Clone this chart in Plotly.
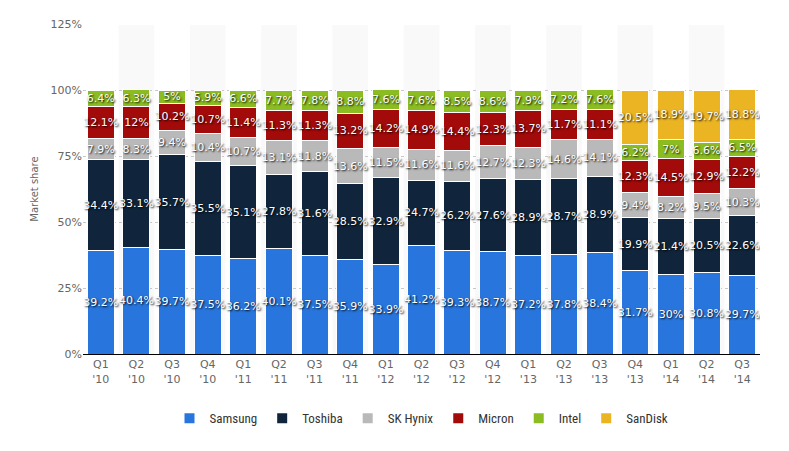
import plotly.graph_objects as go

quarters = ["Q1<br>'10", "Q2<br>'10", "Q3<br>'10", "Q4<br>'10", "Q1<br>'11", "Q2<br>'11", "Q3<br>'11", "Q4<br>'11",
            "Q1<br>'12", "Q2<br>'12", "Q3<br>'12", "Q4<br>'12", "Q1<br>'13", "Q2<br>'13", "Q3<br>'13", "Q4<br>'13",
            "Q1<br>'14", "Q2<br>'14", "Q3<br>'14"]

samsung = [39.2, 40.4, 39.7, 37.5, 36.2, 40.1, 37.5, 35.9, 33.9, 41.2, 39.3, 38.7, 37.2, 37.8, 38.4, 31.7, 30, 30.8, 29.7]
toshiba = [34.4, 33.1, 35.7, 35.5, 35.1, 27.8, 31.6, 28.5, 32.9, 24.7, 26.2, 27.6, 28.9, 28.7, 28.9, 19.9, 21.4, 20.5, 22.6]
sk_hynix = [7.9, 8.3, 9.4, 10.4, 10.7, 13.1, 11.8, 13.6, 11.5, 11.6, 11.6, 12.7, 12.3, 14.6, 14.1, 9.4, 8.2, 9.5, 10.3]
micron = [12.1, 12, 10.2, 10.7, 11.4, 11.3, 11.3, 13.2, 14.2, 14.9, 14.4, 12.3, 13.7, 11.7, 11.1, 12.3, 14.5, 12.9, 12.2]
intel = [6.4, 6.3, 5, 5.9, 6.6, 7.7, 7.8, 8.8, 7.6, 7.6, 8.5, 8.6, 7.9, 7.2, 7.6, 6.2, 7, 6.6, 6.5]
sandisk = [None] * 15 + [20.5, 18.9, 19.7, 18.8]

series = [
    ("Samsung", samsung, "#2876dd"),
    ("Toshiba", toshiba, "#10253b"),
    ("SK Hynix", sk_hynix, "#b9b9b9"),
    ("Micron", micron, "#a30a0a"),
    ("Intel", intel, "#8bbc21"),
    ("SanDisk", sandisk, "#ebb422"),
]

font_family = "DejaVu Sans, Verdana, sans-serif"
narrow = "Liberation Sans Narrow, Roboto Condensed, Liberation Sans, sans-serif"

fig = go.Figure()
for name, vals, color in series:
    fig.add_trace(go.Bar(
        name=name, x=quarters, y=vals,
        marker=dict(color=color, line=dict(color="white", width=1)),
        texttemplate="%{y}%", textposition="inside", insidetextanchor="middle",
        textangle=0, constraintext="none",
        textfont=dict(color="white", size=11, family=font_family, shadow="1px 1px 2px #000"),
    ))

# alternating column background bands
for i in range(1, len(quarters), 2):
    fig.add_shape(type="rect", xref="x", yref="y", x0=i - 0.5, x1=i + 0.5, y0=0, y1=124.5,
                  fillcolor="#f9f9f9", line=dict(width=0), layer="below")

fig.update_layout(
    barmode="stack",
    width=781, height=443,
    margin=dict(l=75, r=29, t=16, b=97, autoexpand=False),
    plot_bgcolor="white", paper_bgcolor="white",
    bargap=0.24,
    font=dict(family=font_family, color="#666666", size=11),
    uniformtext=dict(minsize=10, mode="show"),
    legend=dict(orientation="h", x=0.5, xanchor="center", y=-0.195, yanchor="middle",
                font=dict(size=13, color="#333333", family=narrow), traceorder="normal",
                itemsizing="constant", itemwidth=30),
    xaxis=dict(showgrid=False, showline=True, linecolor="#000000", linewidth=1, automargin=False,
               tickfont=dict(size=11, color="#666666"), ticks=""),
    yaxis=dict(range=[0, 125], tickvals=[0, 25, 50, 75, 100, 125], automargin=False,
               ticktext=["0%", "25%", "50%", "75%", "100%", "125%"],
               showgrid=True, gridcolor="#c8c8c8", griddash="dot", gridwidth=1,
               zeroline=False, tickfont=dict(size=11, color="#666666"),
               title=dict(text="Market share", font=dict(size=10, color="#666666"), standoff=10)),
)

fig.write_html("out.html")
